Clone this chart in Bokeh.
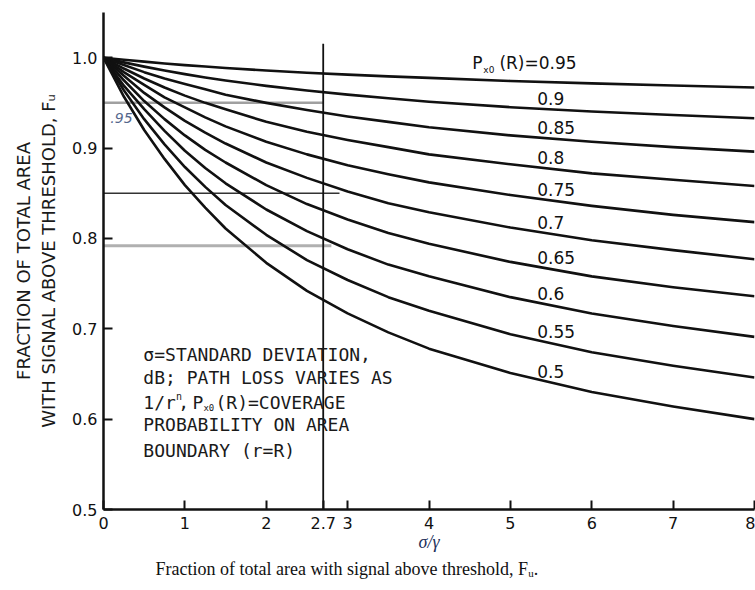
import numpy as np
from bokeh.plotting import figure
from bokeh.models import FixedTicker, ColumnDataSource, NumeralTickFormatter, Title
from bokeh.core.properties import value
from bokeh.embed import file_html
from bokeh.resources import INLINE

# ---------------- data ----------------
sigma_over_gamma = [0, 0.25, 0.5, 0.75, 1, 1.25, 1.5, 2, 2.5, 3, 3.5, 4, 5, 6, 7, 8]

f_p095 = [1.0, 0.9977, 0.9956, 0.9936, 0.9918, 0.9902, 0.9886, 0.9858, 0.9833, 0.9812, 0.9793, 0.9776, 0.9742, 0.9716, 0.9692, 0.967]
f_p090 = [1.0, 0.9948, 0.9901, 0.9858, 0.9818, 0.9781, 0.9747, 0.9688, 0.9636, 0.9591, 0.9551, 0.9513, 0.9452, 0.9405, 0.9366, 0.933]
f_p085 = [1.000, 0.992, 0.984, 0.977, 0.971, 0.965, 0.959, 0.950, 0.942, 0.935, 0.929, 0.923, 0.914, 0.907, 0.901, 0.896]
f_p080 = [1.000, 0.988, 0.977, 0.967, 0.958, 0.950, 0.943, 0.929, 0.918, 0.909, 0.901, 0.893, 0.882, 0.872, 0.865, 0.858]
f_p075 = [1.000, 0.984, 0.970, 0.956, 0.945, 0.934, 0.924, 0.907, 0.893, 0.881, 0.871, 0.862, 0.848, 0.836, 0.826, 0.818]
f_p070 = [1.000, 0.980, 0.961, 0.945, 0.930, 0.917, 0.905, 0.884, 0.867, 0.852, 0.839, 0.829, 0.812, 0.798, 0.787, 0.777]
f_p065 = [1.000, 0.975, 0.952, 0.932, 0.914, 0.898, 0.884, 0.859, 0.838, 0.821, 0.806, 0.794, 0.774, 0.758, 0.746, 0.736]
f_p060 = [1.000, 0.969, 0.943, 0.919, 0.897, 0.878, 0.861, 0.832, 0.808, 0.788, 0.771, 0.758, 0.735, 0.717, 0.703, 0.691]
f_p055 = [1.000, 0.964, 0.932, 0.904, 0.879, 0.857, 0.837, 0.804, 0.776, 0.754, 0.735, 0.720, 0.694, 0.674, 0.659, 0.646]
f_p050 = [1.000, 0.957, 0.920, 0.888, 0.859, 0.834, 0.811, 0.773, 0.742, 0.717, 0.696, 0.678, 0.651, 0.630, 0.614, 0.600]

curves = [f_p095, f_p090, f_p085, f_p080, f_p075, f_p070, f_p065, f_p060, f_p055, f_p050]
curve_labels = ["0.95", "0.9", "0.85", "0.8", "0.75", "0.7", "0.65", "0.6", "0.55", "0.5"]

marker_x = 2.7                      # vertical reference line
marker_top = 1.0155
ref_levels_y = [0.95, 0.85, 0.792]  # horizontal reference lines
ref_levels_xend = [2.7, 2.9, 2.8]
ref_levels_color = ["#a0a0a0", "#333333", "#b0b0b0"]
ref_levels_width = [2.5, 1.6, 3.0]

x_ticks = [0, 1, 2, 2.7, 3, 4, 5, 6, 7, 8]
y_ticks = [0.5, 0.6, 0.7, 0.8, 0.9, 1.0]

note_lines = ["σ=STANDARD DEVIATION,", "dB; PATH LOSS VARIES AS", None,
              "PROBABILITY ON AREA", "BOUNDARY (r=R)"]

# ---------------- figure ----------------
p = figure(width=755, height=590, x_range=(0, 8), y_range=(0.5, 1.05),
           output_backend="svg", toolbar_location=None,
           min_border_left=103, min_border_right=1, min_border_top=12,
           min_border_bottom=81)
p.outline_line_color = None
p.xgrid.visible = False
p.ygrid.visible = False
p.background_fill_color = "white"
p.border_fill_color = "white"

for ax in (p.xaxis, p.yaxis):
    ax.axis_line_width = 2.5
    ax.axis_line_color = "#111111"
    ax.major_tick_in = 9
    ax.major_tick_out = 0
    ax.major_tick_line_width = 2
    ax.major_tick_line_color = "#111111"
    ax.minor_tick_line_color = None
    ax.major_label_text_font = "DejaVu Sans"
    ax.major_label_text_font_size = "16px"
    ax.major_label_text_color = "#111111"
p.xaxis.ticker = FixedTicker(ticks=x_ticks)
p.xaxis.formatter = NumeralTickFormatter(format="0")
p.xaxis.major_label_overrides = {2.7: "2.7"}
p.yaxis.ticker = FixedTicker(ticks=y_ticks)
p.yaxis.formatter = NumeralTickFormatter(format="0.0")
p.xaxis.major_label_standoff = 7
p.yaxis.major_label_standoff = 6

# axis titles
p.yaxis.axis_label = "FRACTION OF TOTAL AREA\nWITH SIGNAL ABOVE THRESHOLD, Fᵤ"
p.yaxis.axis_label_text_font = "DejaVu Sans"
p.yaxis.axis_label_text_font_style = "normal"
p.yaxis.axis_label_text_font_size = "18px"
p.yaxis.axis_label_text_color = "#1a1a1a"
p.yaxis.axis_label_standoff = 10

p.xaxis.axis_label = "σ/γ"
p.xaxis.axis_label_text_font = "Liberation Serif"
p.xaxis.axis_label_text_font_style = "italic"
p.xaxis.axis_label_text_font_size = "18px"
p.xaxis.axis_label_text_color = "#23305a"
p.xaxis.axis_label_standoff = 0

p.add_layout(Title(text="Fraction of total area with signal above threshold, Fᵤ.",
                   align="left", offset=52, text_font="Liberation Serif",
                   text_font_size="18px", text_font_style="normal",
                   text_color="#111111", standoff=4), "below")

# horizontal reference lines
for yv, xe, c, w in zip(ref_levels_y, ref_levels_xend, ref_levels_color, ref_levels_width):
    p.line([0, xe], [yv, yv], line_color=c, line_width=w)

# curves
for ys in curves:
    p.line(sigma_over_gamma, ys, line_color="#111111", line_width=2.6,
           line_join="round")

# vertical line at 2.7
p.line([marker_x, marker_x], [0.5, marker_top], line_color="#111111", line_width=1.8)

# curve labels
lab_x = 5.33
lab_y = [float(np.interp(5.5, sigma_over_gamma, ys)) + 0.0125 for ys in curves]
lab_y[0] = float(np.interp(5.5, sigma_over_gamma, curves[0])) + 0.021
src = ColumnDataSource(dict(x=[lab_x] * 9, y=lab_y[1:], t=curve_labels[1:]))
p.text(x="x", y="y", text="t", source=src, text_font=value("DejaVu Sans"),
       text_font_size=value("17px"), text_baseline="middle", text_align="left",
       text_color="#111111")
# first label  P_x0(R)=0.95
p.text(x=[4.533], y=[lab_y[0]], text=["P"], text_font=value("DejaVu Sans"),
       text_font_size=value("17px"), text_baseline="middle", text_color="#111111")
p.text(x=[4.668], y=[lab_y[0] - 0.0075], text=["x0"], text_font=value("DejaVu Sans"),
       text_font_size=value("9px"), text_baseline="middle", text_color="#111111")
p.text(x=[4.865], y=[lab_y[0]], text=["(R)=" + curve_labels[0]], text_font=value("DejaVu Sans"),
       text_font_size=value("17px"), text_baseline="middle", text_color="#111111")

# ".95" marker below the gray 0.95 line
p.text(x=[0.22], y=[0.933], text=[".95"], text_font=value("DejaVu Sans"),
       text_font_style="italic", text_font_size=value("14px"), text_align="center",
       text_baseline="middle", text_color="#55678c")

# note block
mono = value("DejaVu Sans Mono")
note_x = 0.49
note_y = [0.672, 0.646, 0.6185, 0.5936, 0.5655]
for t, yy in zip(note_lines, note_y):
    if t is None:
        continue
    p.text(x=[note_x], y=[yy], text=[t], text_font=mono,
           text_font_size=value("18px"), text_baseline="middle", text_color="#1a1a1a")
y3 = note_y[2]
p.text(x=[note_x], y=[y3], text=["1/r"], text_font=mono,
       text_font_size=value("18px"), text_baseline="middle", text_color="#1a1a1a")
p.text(x=[0.892], y=[y3 + 0.007], text=["n"], text_font=mono,
       text_font_size=value("10px"), text_baseline="middle", text_color="#1a1a1a")
p.text(x=[0.92], y=[y3], text=[","], text_font=mono,
       text_font_size=value("18px"), text_baseline="middle", text_color="#1a1a1a")
p.text(x=[1.093], y=[y3], text=["P"], text_font=mono,
       text_font_size=value("18px"), text_baseline="middle", text_color="#1a1a1a")
p.text(x=[1.228], y=[y3 - 0.0065], text=["x0"], text_font=mono,
       text_font_size=value("9px"), text_baseline="middle", text_color="#1a1a1a")
p.text(x=[1.376], y=[y3], text=["(R)=COVERAGE"], text_font=mono,
       text_font_size=value("18px"), text_baseline="middle", text_color="#1a1a1a")

open("out.html", "w").write(file_html(p, INLINE))
